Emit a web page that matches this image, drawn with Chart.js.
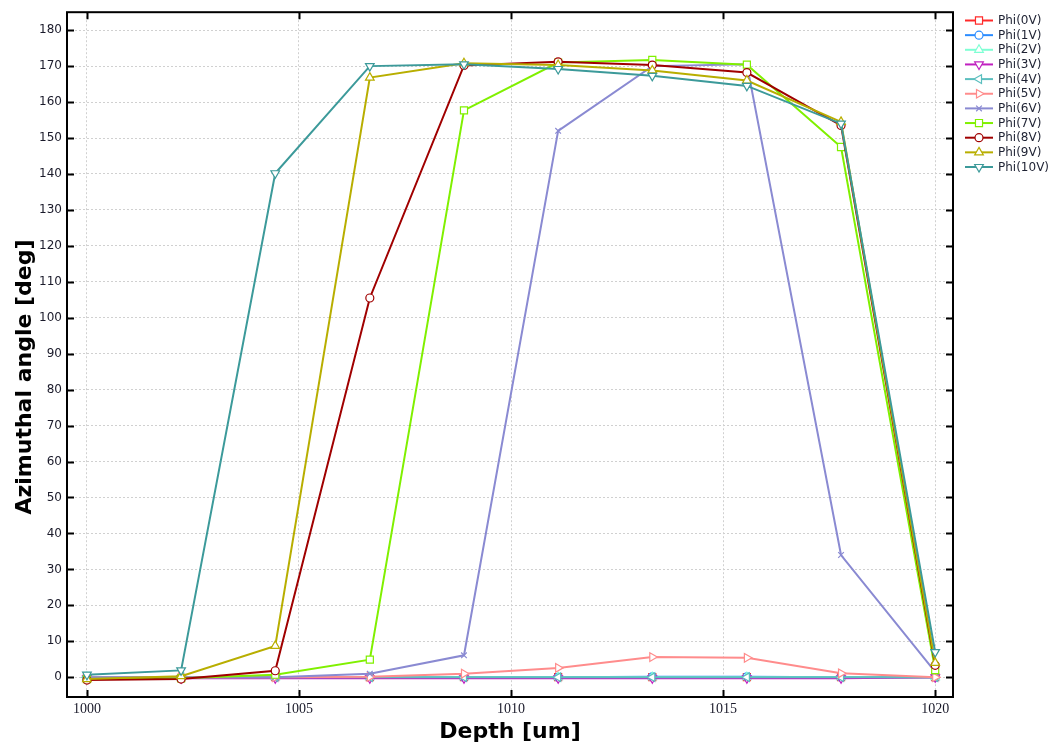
<!DOCTYPE html>
<html>
<head>
<meta charset="utf-8">
<script src="https://cdn.jsdelivr.net/npm/chart.js@4"></script>
<style>
  body { margin: 0; background: #fff; }
  #wrap { width: 1053px; height: 748px; }
</style>
</head>
<body>
<div id="wrap"><canvas id="grafico" width="1053" height="748"></canvas></div>
<script>
// dados
const depth = [1000, 1002.22, 1004.44, 1006.67, 1008.89, 1011.11, 1013.33, 1015.56, 1017.78, 1020];
const phi0  = [-0.2, -0.2, 0, 0, 0, 0, 0, 0, 0, 0];
const phi1  = [0, 0, 0, 0, 0, 0, 0.1, 0.1, 0, 0];
const phi2  = [0, 0, 0, 0, 0, 0, 0, 0, 0, 0];
const phi3  = [-0.3, -0.3, -0.3, -0.3, -0.3, -0.3, -0.3, -0.3, -0.3, 0];
const phi4  = [0, 0, 0, 0, 0, 0, 0, 0, 0, 0];
const phi5  = [0, 0, 0, 0.1, 1, 2.6, 5.6, 5.4, 1.1, 0];
const phi6  = [0, 0, 0, 1, 6.1, 152, 170, 170.5, 34, 1.5];
const phi7  = [-0.5, -0.3, 0.7, 4.9, 157.7, 171, 171.7, 170.4, 147.5, 2];
const phi8  = [-0.8, -0.5, 1.8, 105.5, 170.2, 171.2, 170.3, 168.2, 153.5, 3.3];
const phi9  = [-0.5, 0.3, 8.7, 166.8, 170.8, 170.3, 168.8, 166, 154.5, 4];
const phi10 = [0.7, 1.9, 140.2, 170, 170.5, 169.2, 167.3, 164.5, 154, 7];

const nomes = ['Phi(0V)', 'Phi(1V)', 'Phi(2V)', 'Phi(3V)', 'Phi(4V)', 'Phi(5V)',
               'Phi(6V)', 'Phi(7V)', 'Phi(8V)', 'Phi(9V)', 'Phi(10V)'];
const series = [phi0, phi1, phi2, phi3, phi4, phi5, phi6, phi7, phi8, phi9, phi10];
const xTicks = [1000, 1005, 1010, 1015, 1020];
const yTicks = [0, 10, 20, 30, 40, 50, 60, 70, 80, 90, 100, 110, 120, 130, 140, 150, 160, 170, 180];

// estilos
const cores = ['#ff2a2a', '#2b8cff', '#7fffd4', '#c020c0', '#5cbfbf', '#ff8c8c',
               '#8a8ad2', '#80f000', '#a00000', '#b8ae00', '#3c9a9a'];
const marcadores = ['rect', 'circle', 'triangle', 'triangle', 'triangle', 'triangle',
                    'crossRot', 'rect', 'circle', 'triangle', 'triangle'];
const rotacoes = [0, 0, 0, 180, -90, 90, 0, 0, 0, 0, 180];
const raios = [5, 4, 5, 5, 5, 5, 4, 5, 4, 5, 5];

const datasets = series.map((vals, i) => ({
    label: nomes[i],
    data: vals.map((v, k) => ({ x: depth[k], y: v })),
    borderColor: cores[i],
    backgroundColor: '#ffffff',
    pointBorderColor: cores[i],
    pointBackgroundColor: '#ffffff',
    pointStyle: marcadores[i],
    pointRotation: rotacoes[i],
    pointRadius: raios[i],
    pointBorderWidth: 1.2,
    borderWidth: 2,
    tension: 0,
    order: 10 - i
}));

// moldura preta, ticks para dentro e título do eixo y
const moldura = {
    id: 'moldura',
    afterDraw(chart) {
        const { ctx, chartArea: a, scales } = chart;
        ctx.save();
        ctx.strokeStyle = '#000';
        ctx.lineWidth = 2;
        ctx.strokeRect(a.left, a.top, a.right - a.left, a.bottom - a.top);
        ctx.beginPath();
        xTicks.forEach(v => {
            const px = Math.round(scales.x.getPixelForValue(v)) + 0.5;
            ctx.moveTo(px, a.bottom); ctx.lineTo(px, a.bottom - 7);
            ctx.moveTo(px, a.top); ctx.lineTo(px, a.top + 7);
        });
        yTicks.forEach(v => {
            const py = Math.round(scales.y.getPixelForValue(v)) + 0.5;
            ctx.moveTo(a.left, py); ctx.lineTo(a.left + 7, py);
            ctx.moveTo(a.right, py); ctx.lineTo(a.right - 7, py);
        });
        ctx.stroke();

        ctx.translate(25, 377);
        ctx.rotate(-Math.PI / 2);
        ctx.fillStyle = '#000';
        ctx.font = 'bold 22px "DejaVu Sans"';
        ctx.textAlign = 'center';
        ctx.textBaseline = 'middle';
        ctx.fillText('Azimuthal angle [deg]', 0, 0);
        ctx.restore();
    }
};

// legenda com linha + marcador
const legenda = {
    id: 'legenda',
    afterDraw(chart) {
        const ctx = chart.ctx;
        ctx.save();
        chart.data.datasets.forEach((ds, i) => {
            const y = 20.5 + i * 14.65;
            ctx.strokeStyle = ds.borderColor;
            ctx.lineWidth = 2;
            ctx.beginPath();
            ctx.moveTo(965, y); ctx.lineTo(993, y);
            ctx.stroke();
            ctx.fillStyle = '#fff';
            ctx.lineWidth = 1.2;
            Chart.helpers.drawPoint(ctx, {
                pointStyle: ds.pointStyle,
                rotation: ds.pointRotation,
                radius: ds.pointRadius,
                borderWidth: 1.2
            }, 979, y);
            ctx.fillStyle = '#1e2233';
            ctx.font = '12px "DejaVu Sans"';
            ctx.textBaseline = 'middle';
            ctx.fillText(ds.label, 998, y + 0.5);
        });
        ctx.restore();
    }
};

new Chart(document.getElementById('grafico').getContext('2d'), {
    type: 'line',
    data: { datasets },
    options: {
        responsive: false,
        devicePixelRatio: 1,
        animation: false,
        layout: { padding: { top: 10, right: 100, left: 0, bottom: 0 } },
        plugins: {
            legend: { display: false },
            tooltip: { enabled: false }
        },
        scales: {
            x: {
                type: 'linear',
                min: 999.53,
                max: 1020.42,
                afterBuildTicks: s => { s.ticks = xTicks.map(v => ({ value: v })); },
                afterFit: s => { s.height = 51; },
                grid: { color: '#d0d0d0', lineWidth: 1, drawTicks: false },
                border: { display: false, dash: [2, 2] },
                ticks: {
                    color: '#1a1a2a',
                    font: { family: '"Liberation Serif"', size: 14 },
                    padding: 4,
                    maxRotation: 0,
                    callback: v => String(v)
                },
                title: {
                    display: true,
                    text: 'Depth [um]',
                    color: '#000',
                    font: { family: '"DejaVu Sans"', size: 22, weight: 'bold' },
                    padding: { top: 0, bottom: 3 }
                }
            },
            y: {
                min: -5.5,
                max: 185,
                afterBuildTicks: s => { s.ticks = yTicks.map(v => ({ value: v })); },
                afterFit: s => { s.width = 67; },
                grid: { color: '#d0d0d0', lineWidth: 1, drawTicks: false },
                border: { display: false, dash: [2, 2] },
                ticks: {
                    color: '#1a1a2a',
                    font: { family: '"DejaVu Sans"', size: 12 },
                    padding: 5
                }
            }
        }
    },
    plugins: [moldura, legenda]
});
</script>
</body>
</html>
